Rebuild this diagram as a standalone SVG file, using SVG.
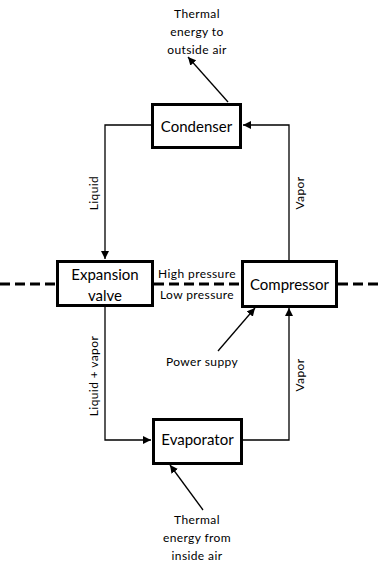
<svg xmlns="http://www.w3.org/2000/svg" width="382" height="565" viewBox="0 0 382 565">
<style>
.box{fill:#fff;stroke:#000;stroke-width:3}
.ln{fill:none;stroke:#000;stroke-width:1.3}
.dash{fill:none;stroke:#000;stroke-width:3;stroke-dasharray:10 5}
.lbl{font-family:Lato,"Liberation Sans",sans-serif;font-size:15px;fill:#000;text-anchor:middle}
.sm{font-family:Lato,"Liberation Sans",sans-serif;font-size:12px;fill:#000;text-anchor:middle;letter-spacing:0.4px}
</style>
<defs>
<marker id="ah" viewBox="0 0 10 10" refX="10" refY="5" markerWidth="8" markerHeight="8" markerUnits="userSpaceOnUse" orient="auto">
<path d="M0,0 L10,5 L0,10 Z" fill="#000"/>
</marker>
</defs>
<g id="pressure-line">
<line class="dash" x1="0" y1="284" x2="56" y2="284"/>
<line class="dash" x1="154" y1="284" x2="240" y2="284"/>
<line class="dash" x1="338" y1="284" x2="382" y2="284"/>
</g>
<g id="connectors">
<polyline class="ln" points="152,125 105,125 105,259" marker-end="url(#ah)"/>
<polyline class="ln" points="289,260 289,125 243,125" marker-end="url(#ah)"/>
<polyline class="ln" points="105,307 105,440 151,440" marker-end="url(#ah)"/>
<polyline class="ln" points="242,440 289,440 289,308" marker-end="url(#ah)"/>
<line class="ln" x1="228" y1="102" x2="188" y2="57" marker-end="url(#ah)"/>
<line class="ln" x1="218" y1="351" x2="255" y2="308" marker-end="url(#ah)"/>
<line class="ln" x1="203" y1="510" x2="170" y2="465" marker-end="url(#ah)"/>
</g>
<g id="condenser">
<rect class="box" x="152.5" y="104.5" width="88" height="43"/>
<text class="lbl" x="196.5" y="132">Condenser</text>
</g>
<g id="expansion-valve">
<rect class="box" x="57.5" y="261.5" width="95" height="44"/>
<text class="lbl" x="105" y="280">Expansion</text>
<text class="lbl" x="105" y="301">valve</text>
</g>
<g id="compressor">
<rect class="box" x="242.5" y="261.5" width="94" height="45"/>
<text class="lbl" x="289.5" y="290">Compressor</text>
</g>
<g id="evaporator">
<rect class="box" x="153.5" y="419.5" width="88" height="44"/>
<text class="lbl" x="197.5" y="445">Evaporator</text>
</g>
<g id="labels">
<text class="sm"><tspan x="197" y="18">Thermal</tspan><tspan x="197" y="36">energy to</tspan><tspan x="197" y="54">outside air</tspan></text>
<text class="sm" x="197" y="278">High pressure</text>
<text class="sm" x="197" y="299">Low pressure</text>
<text class="sm" x="202" y="366">Power suppy</text>
<text class="sm"><tspan x="197" y="524">Thermal</tspan><tspan x="197" y="542">energy from</tspan><tspan x="197" y="560">inside air</tspan></text>
<text class="sm" transform="rotate(-90 98 193)" x="98" y="193">Liquid</text>
<text class="sm" transform="rotate(-90 304 193)" x="304" y="193">Vapor</text>
<text class="sm" transform="rotate(-90 98 376)" x="98" y="376">Liquid + vapor</text>
<text class="sm" transform="rotate(-90 304 375)" x="304" y="375">Vapor</text>
</g>
</svg>
